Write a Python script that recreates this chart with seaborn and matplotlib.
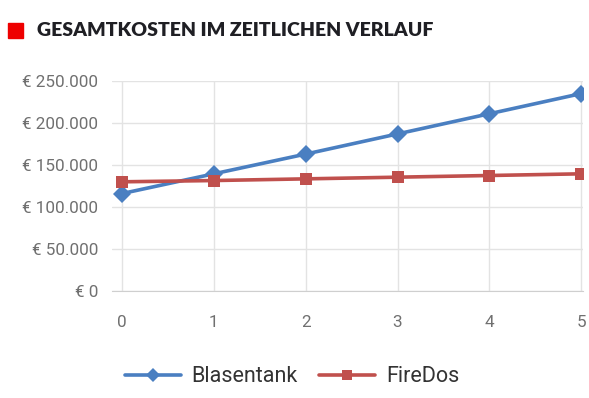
import pandas as pd
import matplotlib.pyplot as plt
import seaborn as sns
from matplotlib.patches import Rectangle

# Values
jahre = [0, 1, 2, 3, 4, 5]
blasentank = [116000, 139500, 163000, 187000, 211000, 235000]
firedos = [130000, 131500, 133500, 135500, 137500, 139500]
y_ticks = [0, 50000, 100000, 150000, 200000, 250000]
y_labels = ["€ 0", "€ 50.000", "€ 100.000", "€ 150.000", "€ 200.000", "€ 250.000"]

df = pd.DataFrame({
    "Jahr": jahre * 2,
    "Kosten": blasentank + firedos,
    "Serie": ["Blasentank"] * len(jahre) + ["FireDos"] * len(jahre),
})

sns.set_style("white")
plt.rcParams["font.family"] = ["Roboto", "DejaVu Sans"]

fig = plt.figure(figsize=(5.89, 3.98), dpi=100)
ax = fig.add_axes([112 / 589, 107 / 398, 471 / 589, 210 / 398])

sns.lineplot(data=df, x="Jahr", y="Kosten", hue="Serie", style="Serie",
             palette={"Blasentank": "#4a7fc1", "FireDos": "#c0504d"},
             markers={"Blasentank": "D", "FireDos": "s"}, dashes=False,
             markersize=9, linewidth=2.6, markeredgewidth=0, ax=ax)

ax.set_xlim(-0.109, 5.02)
ax.set_ylim(0, 250000)
ax.set_xticks(jahre)
ax.set_yticks(y_ticks)
ax.set_yticklabels(y_labels)
ax.set_xlabel("")
ax.set_ylabel("")
ax.grid(True, color="#e3e3e3", linewidth=1)
ax.set_axisbelow(True)
for s in ["left", "right", "top"]:
    ax.spines[s].set_visible(False)
ax.spines["bottom"].set_color("#cfcfcf")
ax.tick_params(axis="x", length=8, color="#e3e3e3", labelcolor="#707070",
               labelsize=12.3, pad=9)
ax.tick_params(axis="y", length=0, labelcolor="#707070", labelsize=12.3, pad=10)

leg = ax.legend(loc="center", bbox_to_anchor=(292 / 589, 21 / 398),
                bbox_transform=fig.transFigure, ncol=2, frameon=False,
                fontsize=15.5, handlelength=2.6, columnspacing=1.0,
                handletextpad=0.5, markerscale=0.8)
for t in leg.get_texts():
    t.set_color("#333333")

# Title with red square
fig.patches.append(Rectangle((8 / 589, 1 - 38 / 398), 15 / 589, 15 / 398,
                             transform=fig.transFigure, color="#ee0000"))
fig.text(37 / 589, 1 - 31 / 398, "GESAMTKOSTEN IM ZEITLICHEN VERLAUF",
         fontsize=14, fontweight="heavy", color="#1f1f24", va="center",
         family=["Lato", "DejaVu Sans"])

fig.savefig("out.png", dpi=100)
